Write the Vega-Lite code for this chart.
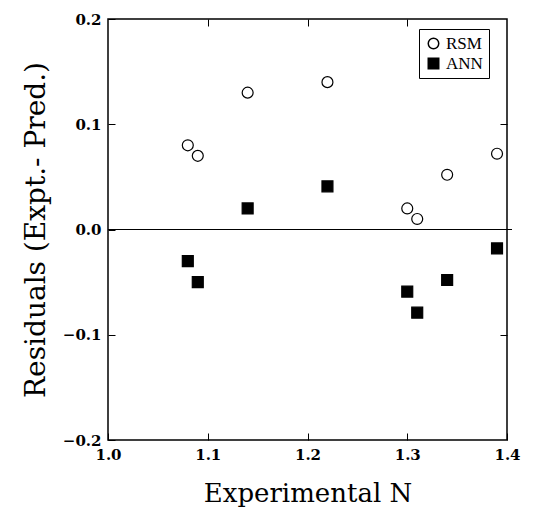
{
  "$schema": "https://vega.github.io/schema/vega-lite/v6.json",
  "width": 399,
  "height": 421,
  "autosize": "none",
  "padding": {"left": 108, "top": 19, "right": 45, "bottom": 72},
  "background": "white",
  "config": {
    "view": {"stroke": "black", "strokeWidth": 1.5},
    "axis": {
      "labelFont": "DejaVu Serif",
      "labelFontWeight": "bold",
      "labelFontSize": 15,
      "labelColor": "black",
      "titleFont": "DejaVu Serif",
      "titleFontWeight": "normal",
      "titleColor": "black",
      "domain": false,
      "grid": false,
      "tickColor": "black",
      "tickSize": -7,
      "tickWidth": 1
    }
  },
  "data": {
    "values": [
      {"n": 1.08, "resid": 0.08, "model": "RSM"},
      {"n": 1.09, "resid": 0.07, "model": "RSM"},
      {"n": 1.14, "resid": 0.13, "model": "RSM"},
      {"n": 1.22, "resid": 0.14, "model": "RSM"},
      {"n": 1.30, "resid": 0.02, "model": "RSM"},
      {"n": 1.31, "resid": 0.01, "model": "RSM"},
      {"n": 1.34, "resid": 0.052, "model": "RSM"},
      {"n": 1.39, "resid": 0.072, "model": "RSM"},
      {"n": 1.08, "resid": -0.03, "model": "ANN"},
      {"n": 1.09, "resid": -0.05, "model": "ANN"},
      {"n": 1.14, "resid": 0.02, "model": "ANN"},
      {"n": 1.22, "resid": 0.041, "model": "ANN"},
      {"n": 1.30, "resid": -0.059, "model": "ANN"},
      {"n": 1.31, "resid": -0.079, "model": "ANN"},
      {"n": 1.34, "resid": -0.048, "model": "ANN"},
      {"n": 1.39, "resid": -0.018, "model": "ANN"}
    ]
  },
  "resolve": {"axis": {"x": "independent", "y": "independent"}},
  "layer": [
    {
      "mark": {"type": "rule", "color": "black", "strokeWidth": 1.2},
      "encoding": {
        "x": {"datum": 1.0, "type": "quantitative", "scale": {"domain": [1.0, 1.4], "nice": false, "zero": false},
          "axis": {"orient": "bottom", "values": [1.0, 1.1, 1.2, 1.3, 1.4], "format": ".1f", "labelPadding": 14, "title": "Experimental N", "titleFontSize": 26, "titlePadding": 18, "labelFlush": false}},
        "x2": {"datum": 1.405},
        "y": {"datum": 0, "type": "quantitative", "scale": {"domain": [-0.2, 0.2], "nice": false, "zero": false},
          "axis": {"orient": "left", "values": [-0.2, -0.1, 0.0, 0.1, 0.2], "format": ".1f", "labelPadding": 14, "title": "Residuals (Expt.- Pred.)", "titleFontSize": 28, "titlePadding": 12, "labelFlush": false}}
      }
    },
    {
      "mark": {"type": "point", "filled": false, "stroke": "black", "strokeWidth": 1.2, "size": 120, "opacity": 1},
      "encoding": {
        "x": {"field": "n", "type": "quantitative", "axis": {"orient": "top", "values": [1.1, 1.2, 1.3], "labels": false, "title": null}},
        "y": {"field": "resid", "type": "quantitative", "axis": {"orient": "right", "values": [-0.1, 0.1], "labels": false, "title": null}},
        "shape": {"field": "model", "type": "nominal", "scale": {"domain": ["RSM", "ANN"], "range": ["circle", "square"]},
          "legend": {"title": null, "orient": "none", "legendX": 311, "legendY": 10, "strokeColor": "black", "padding": 6, "labelFont": "Liberation Serif", "labelFontSize": 17, "labelColor": "black", "symbolSize": 110, "rowPadding": 2,
            "encode": {"symbols": {"update": {"stroke": {"value": "black"}, "strokeWidth": {"value": 1}}}}}},
        "fill": {"field": "model", "type": "nominal", "scale": {"domain": ["RSM", "ANN"], "range": ["white", "black"]}, "legend": null}
      }
    }
  ]
}
